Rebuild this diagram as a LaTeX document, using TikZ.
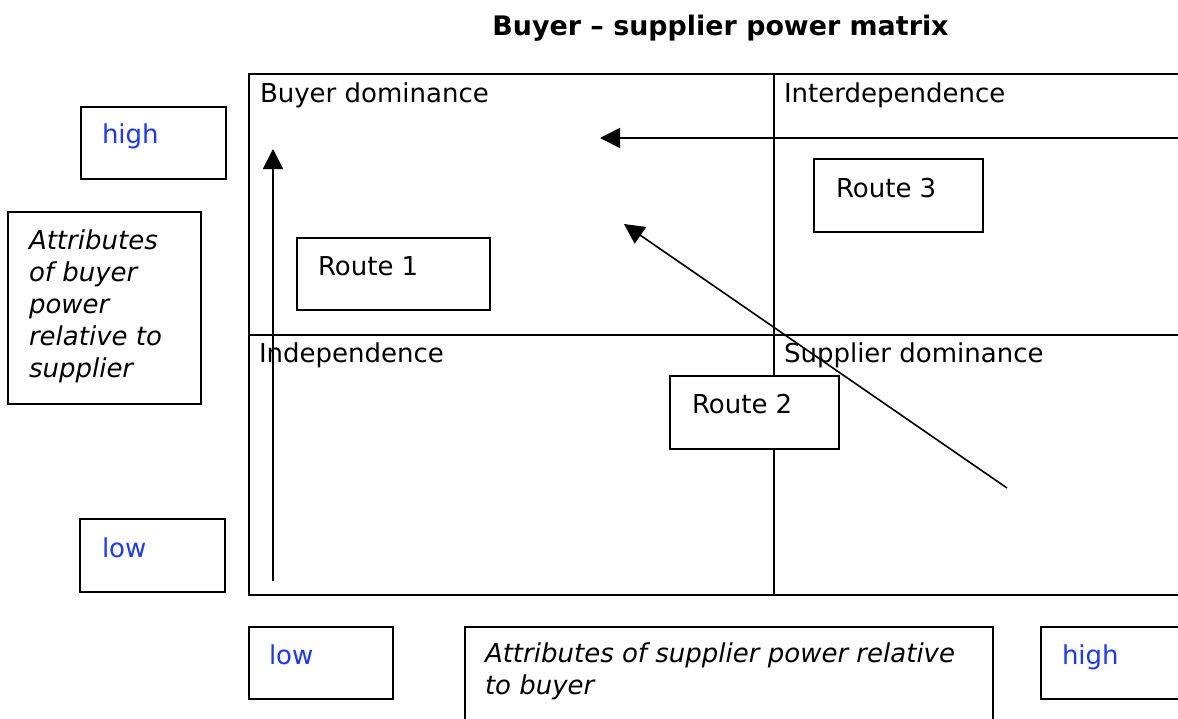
\documentclass[tikz,border=0pt]{standalone}
\usepackage{fontspec}
\setmainfont{DejaVu Sans}
\usetikzlibrary{arrows.meta,calc}
\definecolor{lblblue}{RGB}{25,55,255}
\begin{document}
\begin{tikzpicture}[x=1pt,y=-1pt,
  every node/.style={font=\fontsize{26}{32}\selectfont, inner sep=0pt, outer sep=0pt},
  cell/.style={draw, line width=2.2pt, anchor=north west},
  box/.style={draw, line width=1.8pt, anchor=north west, fill=white},
  routebox/.style={draw, line width=1.5pt, anchor=north west, fill=white},
  lbl/.style={anchor=base west},
  bluelbl/.style={anchor=base west, text=lblblue},
  itlbl/.style={anchor=north west, align=left, font=\itshape\fontsize{26}{32}\selectfont},
  arr/.style={line width=1.6pt, -{Triangle[length=20pt,width=20pt]}}]
\useasboundingbox (0,0) rectangle (1178,718);
\fill[white] (0,0) rectangle (1178,718);
% title
\node[anchor=base, font=\bfseries\fontsize{26.9}{32}\selectfont] (title) at (720.5,35) {Buyer – supplier power matrix};
% matrix cells
\node[cell, minimum width=525, minimum height=261] (bd) at (249,74) {};
\node[cell, minimum width=420, minimum height=261] (inter) at (774,74) {};
\node[cell, minimum width=525, minimum height=260] (indep) at (249,335) {};
\node[cell, minimum width=420, minimum height=260] (sd) at (774,335) {};
\node[lbl] (tbd) at (260,102) {Buyer dominance};
\node[lbl] (tinter) at (784,102) {Interdependence};
\node[lbl] (tindep) at (259,362) {Independence};
\node[lbl] (tsd) at (784,362) {Supplier dominance};
% arrows
\coordinate (vs) at (273,581); \coordinate (ve) at (273,149);
\coordinate (hs) at (1182,138); \coordinate (he) at (600,138);
\coordinate (ds) at (1007,488); \coordinate (de) at (624,224);
\draw[arr] (vs) -- (ve);
\draw[arr] (hs) -- (he);
\draw[arr] (ds) -- (de);
% route boxes
\node[routebox, minimum width=193, minimum height=72] (r1) at (297,238) {};
\node[lbl] (tr1) at ($(r1.north west)+(21,37)$) {Route 1};
\node[routebox, minimum width=169, minimum height=73] (r3) at (814,159) {};
\node[lbl] (tr3) at ($(r3.north west)+(22,38)$) {Route 3};
\node[routebox, minimum width=169, minimum height=73] (r2) at (670,376) {};
\node[lbl] (tr2) at ($(r2.north west)+(22,37)$) {Route 2};
% left axis boxes
\node[box, minimum width=145, minimum height=72] (hiL) at (81,107) {};
\node[bluelbl] (thiL) at (102,143) {high};
\node[box, minimum width=193, minimum height=192] (attB) at (8,212) {};
\node[itlbl] (tattB) at (29,230) {Attributes\\of buyer\\power\\relative to\\supplier};
\node[box, minimum width=145, minimum height=73] (loL) at (80,519) {};
\node[bluelbl] (tloL) at (102,557) {low};
% bottom axis boxes
\node[box, minimum width=144, minimum height=72] (loB) at (249,627) {};
\node[bluelbl] (tloB) at (269,664) {low};
\node[box, minimum width=528, minimum height=110] (attS) at (465,627) {};
\node[itlbl] (tattS) at (485,643) {Attributes of supplier power relative\\to buyer};
\node[box, minimum width=150, minimum height=72] (hiB) at (1041,627) {};
\node[bluelbl] (thiB) at (1062,664) {high};
\end{tikzpicture}
\end{document}
